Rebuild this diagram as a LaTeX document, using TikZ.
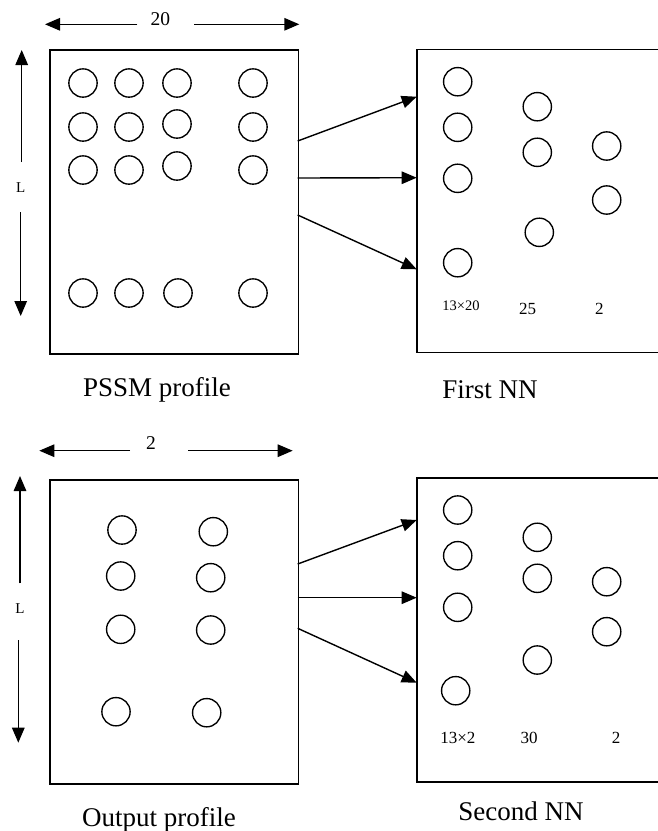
\documentclass[tikz,border=0pt]{standalone}
\usepackage{fontspec}
\setmainfont{Liberation Serif}
\usetikzlibrary{arrows.meta}
\begin{document}
\begin{tikzpicture}[x=1pt,y=-1pt,
  neuron/.style={circle,draw,line width=1.35pt,minimum size=28.3pt,inner sep=0pt},
  frame/.style={draw,line width=1.6pt,inner sep=0pt,anchor=north west},
  openframe/.style={line width=1.6pt},
  bigarrow/.style={line width=1.4pt,-{Triangle[length=15pt,width=12.5pt]}},
  caption/.style={font=\fontsize{27}{30}\selectfont,anchor=base,inner sep=0pt},
  dimlabel/.style={font=\fontsize{19.5}{22}\selectfont,anchor=base,inner sep=0pt},
  sidelabel/.style={font=\fontsize{15}{17}\selectfont,inner sep=0pt},
  smalllabel/.style={font=\fontsize{14.5}{16}\selectfont,anchor=base,inner sep=0pt},
  midlabel/.style={font=\fontsize{17}{19}\selectfont,anchor=base,inner sep=0pt}
]
\useasboundingbox (0,0) rectangle (657,831);

% ---------------- top half ----------------
\node[frame,minimum width=248.4pt,minimum height=304pt] (box1) at (49.3,49) {};
\coordinate (b2tr) at (658,49.3);
\coordinate (b2tl) at (416.7,49.3);
\coordinate (b2bl) at (416.7,352.3);
\coordinate (b2br) at (658,352.3);
\draw[openframe] (b2tr) -- (b2tl) -- (b2bl) -- (b2br);

% width arrow
\node[dimlabel] (w1) at (160.3,25.7) {20};
\coordinate (w1l) at (45,24.3);
\coordinate (w1a) at (137.3,24.3);
\coordinate (w1b) at (194,24.3);
\coordinate (w1r) at (299.3,24.3);
\draw[bigarrow] (w1a) -- (w1l);
\draw[bigarrow] (w1b) -- (w1r);

% height arrow
\node[sidelabel] (h1) at (20.7,188) {L};
\coordinate (h1t) at (21.7,50);
\coordinate (h1a) at (21.7,162);
\coordinate (h1b) at (20.7,212);
\coordinate (h1d) at (20.7,316);
\draw[bigarrow] (h1a) -- (h1t);
\draw[bigarrow] (h1b) -- (h1d);

% PSSM circles
\foreach \x/\y [count=\i] in {83/83,129/83,177/83,253/83,
  83/127,129/127,177/124,253/127,
  83/170,129/170,177/166,253/170,
  83/293,129/293,178/293,253/293}
  \node[neuron] (pa\i) at (\x,\y) {};

% first NN circles
\foreach \x/\y [count=\i] in {457.7/81.7,457.7/127.3,457.7/178.3,457.7/262.7,
  537.3/106.7,537.3/152.3,539.3/232.3,606.7/146,606.7/200}
  \node[neuron] (na\i) at (\x,\y) {};

\node[smalllabel] (l1a) at (461,310) {13×20};
\node[midlabel] (l1b) at (527.7,314) {25};
\node[midlabel] (l1c) at (599.3,314) {2};

% connectors
\coordinate (c1a) at (297.7,141);
\coordinate (c1b) at (297.7,178);
\coordinate (c1c) at (297.7,215);
\coordinate (t1a) at (416.7,96.7);
\coordinate (t1b) at (416.7,177.7);
\coordinate (t1c) at (416.7,269.3);
\draw[bigarrow] (c1a) -- (t1a);
\draw[bigarrow] (c1b) -- (t1b);
\draw[bigarrow] (c1c) -- (t1c);

\node[caption] (cap1) at (157,396.7) {PSSM profile};
\node[caption] (cap2) at (490,398) {First NN};

% ---------------- bottom half ----------------
\node[frame,minimum width=248.4pt,minimum height=304pt] (box3) at (49.3,479.3) {};
\coordinate (b4tr) at (658,477.7);
\coordinate (b4tl) at (416.7,477.7);
\coordinate (b4bl) at (416.7,781.7);
\coordinate (b4br) at (658,781.7);
\draw[openframe] (b4tr) -- (b4tl) -- (b4bl) -- (b4br);

\node[dimlabel] (w2) at (151,449.3) {2};
\coordinate (w2l) at (39.3,450.7);
\coordinate (w2a) at (130,450.7);
\coordinate (w2b) at (188,450.7);
\coordinate (w2r) at (292.7,450.7);
\draw[bigarrow] (w2a) -- (w2l);
\draw[bigarrow] (w2b) -- (w2r);

\node[sidelabel] (h2) at (20,608.3) {L};
\coordinate (h2t) at (20,476);
\coordinate (h2a) at (20,583.3);
\coordinate (h2b) at (18.3,640);
\coordinate (h2d) at (18.3,742.7);
\draw[bigarrow] (h2a) -- (h2t);
\draw[bigarrow] (h2b) -- (h2d);

\foreach \x/\y [count=\i] in {122/530,213.3/531.7,
  120.7/576,210.7/577.7,
  120.7/629.3,210.7/630,
  116/711.7,206.7/712.7}
  \node[neuron] (pb\i) at (\x,\y) {};

\foreach \x/\y [count=\i] in {457.7/510,457.7/555.7,457.7/607.3,455.7/690.7,
  537.3/537.3,537.3/578.3,537.3/660,606.7/581.7,606.7/631.7}
  \node[neuron] (nb\i) at (\x,\y) {};

\node[midlabel] (l2a) at (457.9,743.3) {13×2};
\node[midlabel] (l2b) at (529,743.3) {30};
\node[midlabel] (l2c) at (616,743.3) {2};

\coordinate (c2a) at (297.7,564);
\coordinate (c2b) at (297.7,597.7);
\coordinate (c2c) at (297.7,628.3);
\coordinate (t2a) at (416.7,520);
\coordinate (t2b) at (416.7,597.7);
\coordinate (t2c) at (416.7,682.7);
\draw[bigarrow] (c2a) -- (t2a);
\draw[bigarrow] (c2b) -- (t2b);
\draw[bigarrow] (c2c) -- (t2c);

\node[caption] (cap3) at (159,826.7) {Output profile};
\node[caption] (cap4) at (521,820.7) {Second NN};
\end{tikzpicture}
\end{document}
